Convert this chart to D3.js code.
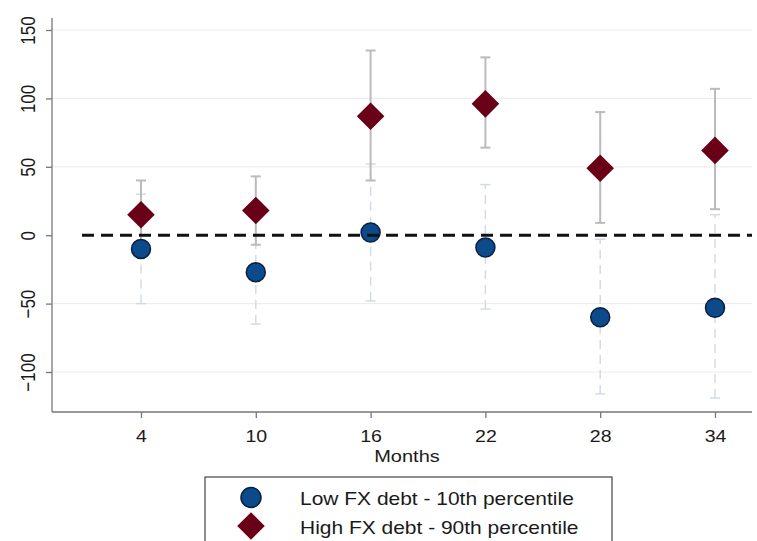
<!DOCTYPE html>
<html>
<head>
<meta charset="utf-8">
<script src="https://cdn.jsdelivr.net/npm/d3@7"></script>
<style>
  html, body { margin: 0; padding: 0; background: #fff; }
  svg { display: block; font-family: "Liberation Sans", Arial, sans-serif; }
</style>
</head>
<body>
<svg id="chart" width="757" height="541"></svg>
<script>
// Horizons (months)
const months = [4, 10, 16, 22, 28, 34];

// Low FX debt (10th percentile): point estimate and confidence bounds
const lowEst   = [-10, -27, 2, -9, -60, -53];
const lowLo    = [-50, -65, -48, -54, -116, -119];
const lowHi    = [30, 12, 52, 37, -3, 15];

// High FX debt (90th percentile): point estimate and confidence bounds
const highEst  = [15, 18, 87, 96, 49, 62];
const highLo   = [-9, -7, 40, 64, 9, 19];
const highHi   = [40, 43, 135, 130, 90, 107];

const yTicks = [-100, -50, 0, 50, 100, 150];
const seriesLabels = ["Low FX debt - 10th percentile", "High FX debt - 90th percentile"];

const svg = d3.select("#chart");

const x = d3.scaleLinear().domain([4, 34]).range([141, 715]);
const y = d3.scaleLinear().domain([-100, 150]).range([372, 30]);

const plotLeft = 52, plotRight = 752, plotTop = 18, plotBottom = 412;
const textColor = "#1a1a1a";
const stretch = 1.22; // wide lettering used throughout the figure

// Grid lines
svg.append("g")
  .selectAll("line")
  .data(yTicks.filter(d => d !== 0))
  .join("line")
  .attr("x1", plotLeft).attr("x2", plotRight)
  .attr("y1", d => y(d)).attr("y2", d => y(d))
  .attr("stroke", "#ededed").attr("stroke-width", 1.2);

// Y axis
const yAxis = svg.append("g")
  .attr("transform", `translate(${plotLeft},0)`)
  .call(d3.axisLeft(y).tickValues(yTicks).tickSize(6).tickPadding(4).tickFormat(d3.format("d")));
yAxis.select(".domain").attr("d", `M0,${plotTop}V${plotBottom}`).attr("stroke", "#777").attr("stroke-width", 1.3);
yAxis.selectAll(".tick line").attr("stroke", "#777").attr("stroke-width", 1.3);
yAxis.selectAll(".tick text")
  .attr("x", 0).attr("dy", 0)
  .attr("transform", `translate(-17,0) scale(${stretch},1) rotate(-90)`)
  .attr("text-anchor", "middle")
  .attr("font-size", 17)
  .attr("fill", textColor);

// X axis
const xAxis = svg.append("g")
  .attr("transform", `translate(0,${plotBottom})`)
  .call(d3.axisBottom(x).tickValues(months).tickSize(6).tickFormat(d3.format("d")));
xAxis.select(".domain").attr("d", `M${plotLeft},0H${plotRight}`).attr("stroke", "#777").attr("stroke-width", 1.3);
xAxis.selectAll(".tick line").attr("stroke", "#777").attr("stroke-width", 1.3);
xAxis.selectAll(".tick text")
  .attr("y", 30).attr("dy", 0)
  .attr("transform", `scale(${stretch},1)`)
  .attr("font-size", 16).attr("fill", textColor);

svg.append("text")
  .attr("transform", `translate(${(plotLeft + plotRight) / 2 + 5},462) scale(1.25,1)`)
  .attr("text-anchor", "middle")
  .attr("font-size", 16).attr("fill", textColor)
  .text("Months");

// Confidence intervals: low FX debt (dashed, light blue-grey)
const capW = 5;
const lowCI = svg.append("g").attr("stroke", "#d3dbe4").attr("stroke-width", 1.5).attr("fill", "none");
months.forEach((m, i) => {
  lowCI.append("line").attr("x1", x(m)).attr("x2", x(m)).attr("y1", y(lowLo[i])).attr("y2", y(lowHi[i]))
    .attr("stroke-dasharray", "9,6");
  [lowLo[i], lowHi[i]].forEach(v => lowCI.append("line")
    .attr("x1", x(m) - capW).attr("x2", x(m) + capW).attr("y1", y(v)).attr("y2", y(v)));
});

// Confidence intervals: high FX debt (solid grey)
const highCI = svg.append("g").attr("stroke", "#bbbbbb").attr("stroke-width", 2).attr("fill", "none");
months.forEach((m, i) => {
  highCI.append("line").attr("x1", x(m)).attr("x2", x(m)).attr("y1", y(highLo[i])).attr("y2", y(highHi[i]));
  [highLo[i], highHi[i]].forEach(v => highCI.append("line")
    .attr("x1", x(m) - capW).attr("x2", x(m) + capW).attr("y1", y(v)).attr("y2", y(v)));
});

// Point estimates
const circleColor = "#0d4a8c", circleEdge = "#08203f";
const diamondColor = "#6a0018";
const diamond = d3.symbol().type(d3.symbolSquare).size(380);

svg.append("g").selectAll("circle")
  .data(months)
  .join("circle")
  .attr("cx", d => x(d)).attr("cy", (d, i) => y(lowEst[i]))
  .attr("r", 9.5)
  .attr("fill", circleColor).attr("stroke", circleEdge).attr("stroke-width", 1.5);

svg.append("g").selectAll("path")
  .data(months)
  .join("path")
  .attr("d", diamond)
  .attr("transform", (d, i) => `translate(${x(d)},${y(highEst[i])}) rotate(45)`)
  .attr("fill", diamondColor);

// Zero reference line
svg.append("line")
  .attr("x1", 82).attr("x2", plotRight)
  .attr("y1", y(0)).attr("y2", y(0))
  .attr("stroke", "#111").attr("stroke-width", 3)
  .attr("stroke-dasharray", "12,7");

// Legend
const legend = svg.append("g");
legend.append("rect")
  .attr("x", 205).attr("y", 477).attr("width", 407).attr("height", 80)
  .attr("fill", "#fff").attr("stroke", "#444").attr("stroke-width", 1.2);
legend.append("circle")
  .attr("cx", 251).attr("cy", 497.5).attr("r", 10)
  .attr("fill", circleColor).attr("stroke", circleEdge).attr("stroke-width", 1.5);
legend.append("path")
  .attr("d", diamond)
  .attr("transform", "translate(251,526) rotate(45)")
  .attr("fill", diamondColor);
legend.selectAll("text")
  .data(seriesLabels)
  .join("text")
  .attr("transform", (d, i) => `translate(300,${505 + i * 29}) scale(1.165,1)`)
  .attr("font-size", 18).attr("fill", textColor)
  .text(d => d);
</script>
</body>
</html>
